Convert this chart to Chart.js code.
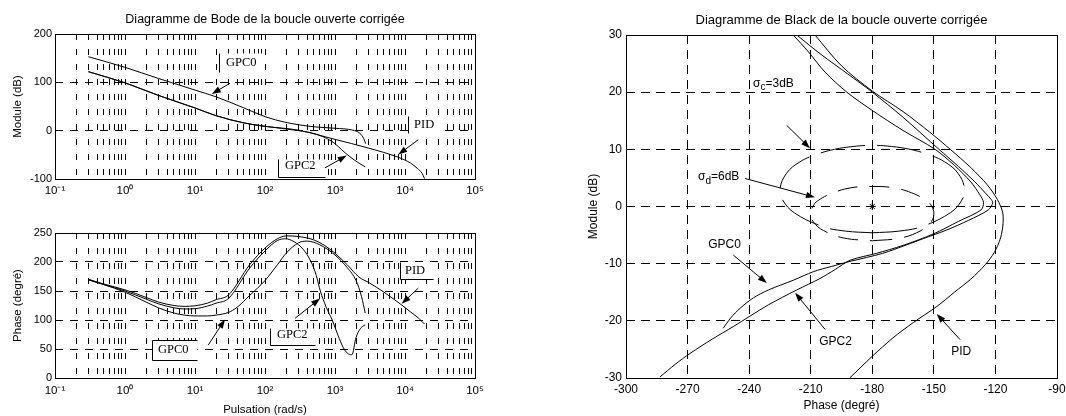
<!DOCTYPE html>
<html lang="fr">
<head>
<meta charset="utf-8">
<title>Bode / Black</title>
<script src="https://cdn.jsdelivr.net/npm/chart.js@4.4.1/dist/chart.umd.min.js"></script>
<style>
html,body{margin:0;padding:0;background:#fff;}
body{width:1066px;height:416px;position:relative;overflow:hidden;}
canvas{position:absolute;display:block;}
</style>
</head>
<body>
<canvas id="bodeMod" width="540" height="200" style="left:0;top:0;width:540px;height:200px"></canvas>
<canvas id="bodePh" width="540" height="216" style="left:0;top:200px;width:540px;height:216px"></canvas>
<canvas id="black" width="526" height="416" style="left:540px;top:0;width:526px;height:416px"></canvas>
<script>
// ---------------- tick labels ----------------
const decadeLabels = ['10\u207B\u00B9','10\u2070','10\u00B9','10\u00B2','10\u00B3','10\u2074','10\u2075'];
const moduleTicks = [-100, 0, 100, 200];
const phaseTicks = [0, 50, 100, 150, 200, 250];
const blackPhaseTicks = [-300, -270, -240, -210, -180, -150, -120, -90];
const blackModuleTicks = [-30, -20, -10, 0, 10, 20, 30];

// ---------------- Bode : module (dB) ----------------
const modW_GPC0  = [0.3, 1, 3, 10, 20, 50, 100, 200, 500, 1000, 1800, 2200, 2500, 2750];
const modDb_GPC0 = [153, 131, 108, 84, 70, 47, 29, 17, 8, 5, 1, -4, -13, -27];
const modW_GPC2  = [0.3, 1, 3, 10, 20, 50, 100, 300, 500, 900, 1400, 1900, 2700];
const modDb_GPC2 = [122, 99, 73, 47, 31, 16, 9, 0, -6, -22, -46, -61, -75];
const modW_PID   = [0.3, 1, 3, 10, 20, 50, 100, 300, 1000, 3000, 8000, 12000, 15000, 17500, 19000];
const modDb_PID  = [122, 99, 73, 47, 31, 16, 9, 1, -18, -36, -55, -67, -78, -88, -99];

// ---------------- Bode : phase (degré) ----------------
const phW_GPC0   = [0.3, 0.5, 1, 2, 3, 5, 7, 10, 15, 20, 30, 40, 60, 100, 150, 200, 300, 400, 600, 1000, 1500, 2000, 2400, 2700];
const phDeg_GPC0 = [170, 161, 148, 131, 121, 112, 108.5, 107, 107, 108.5, 113, 122, 142, 168, 195, 215, 233, 236, 230, 212, 190, 168, 140, 112];
const phW_GPC2   = [0.3, 0.5, 1, 2, 3, 5, 7, 10, 15, 20, 30, 60, 100, 150, 195, 260, 350, 457, 540, 617, 750, 912, 1100, 1318, 1500, 1740, 2000, 2300, 2700];
const phDeg_GPC2 = [169, 161, 150, 136, 128, 121, 119, 119.5, 124, 129, 137, 189, 219, 237, 240, 235, 222, 200, 177, 150, 122, 100, 74, 52, 43, 40, 70, 85, 92];
const phW_PID    = [0.3, 0.5, 1, 2, 3, 5, 7, 10, 15, 20, 30, 60, 100, 150, 200, 300, 500, 700, 1000, 1500, 2200, 3000, 5000, 8500, 12000, 16000, 19000];
const phDeg_PID  = [170, 162, 152, 139, 131, 125, 123.5, 124.5, 129, 135, 143, 195, 224, 240, 245, 244, 238, 229, 215, 195, 174, 165, 148, 128, 114, 102, 93];

// ---------------- Black : phase (degré) / module (dB) ----------------
const blkPh_GPC0 = [-216.8, -205, -192, -180, -165, -147.5, -138, -130, -124.5, -122, -121.3, -123.5, -133, -143.7, -155, -163.2, -175, -190.8, -200, -208.7, -218.5, -230.6, -238, -244.4, -249, -252.6];
const blkDb_GPC0 = [30, 26.6, 23.2, 20, 15.6, 10, 7, 4.3, 2.2, 1.2, 0.6, -0.6, -2.4, -4.1, -5.6, -6.7, -8.2, -9.6, -10.5, -11.4, -12.9, -14.6, -16, -17.8, -19.5, -21.3];
const blkPh_GPC2 = [-218.5, -211, -203, -192.4, -180, -165, -149.4, -140, -132, -127.5, -125.8, -127, -138, -150.2, -165, -178, -190.8, -198, -205.5, -216.8, -230.6, -247.7, -258, -268.8, -276, -283.4];
const blkDb_GPC2 = [30, 27, 23.5, 20, 16.8, 13.3, 10, 7.2, 4.3, 2, 0.7, -0.6, -2.6, -4.8, -6.8, -8.2, -9.4, -11, -12.6, -14.6, -17.2, -21, -23.2, -25.7, -27.6, -29.8];
const blkPh_PID  = [-207.9, -195, -180, -165, -152, -142, -132, -124, -119, -116.5, -116.3, -117.5, -120.5, -125, -132, -140, -148.6, -160, -170, -180, -191];
const blkDb_PID  = [30, 24.6, 20.2, 16.6, 13, 10, 6.8, 3.8, 1.2, -1, -3, -5.5, -8, -10.2, -12.7, -15, -17.5, -20.3, -23, -26.2, -30];

// contour sigma_c = 3 dB
const sigCPh = [-180, -166.9, -155.8, -142, -136.4, -135, -138.2, -144.7, -152.8, -161.6, -170.7, -180, -189.3, -198.4, -207.2, -215.3, -221.8, -225, -223.6, -218, -204.2, -193.1, -180];
const sigCDb = [-4.6, -4.3, -3.5, -1.1, 1.1, 3, 5.8, 7.8, 9.1, 10, 10.5, 10.7, 10.5, 10, 9.1, 7.8, 5.8, 3, 1.1, -1.1, -3.5, -4.3, -4.6];
// contour sigma_d = 6 dB
const sigDPh = [-180, -166, -156.2, -151.3, -150, -151, -153.4, -160.9, -170.1, -180, -189.9, -199.1, -206.6, -209, -210, -208.7, -203.8, -194, -180];
const sigDDb = [-6, -5.5, -4.2, -2.7, -1.3, 0, 1, 2.4, 3.3, 3.5, 3.3, 2.4, 1, 0, -1.3, -2.7, -4.2, -5.5, -6];
// point critique
const criticalPh = [-180];
const criticalDb = [0];

// ---------------- helpers ----------------
const SANS = "'Liberation Sans', Arial, Helvetica, sans-serif";
const SERIF = "'Liberation Serif', 'Times New Roman', serif";
Chart.defaults.font.family = SANS;
Chart.defaults.font.size = 11;
Chart.defaults.color = '#000';

const omegaGrid = [];
for (let e = -1; e < 5; e++) for (let m = 1; m < 10; m++) omegaGrid.push(+(m * Math.pow(10, e)).toPrecision(6));
omegaGrid.push(1e5);

function decadeLabel(v) {
  const e = Math.log10(v), r = Math.round(e);
  return Math.abs(e - r) < 1e-6 ? decadeLabels[r + 1] : '';
}
function fixedTicks(vals) { return s => { s.ticks = vals.map(v => ({ value: v })); }; }
function toPoints(xs, ys) { return xs.map((x, i) => ({ x: x, y: ys[i] })); }
function curve(xs, ys, extra) {
  return Object.assign({ data: toPoints(xs, ys), showLine: true, borderColor: '#000', backgroundColor: '#000',
    borderWidth: 1, pointRadius: 0, pointHoverRadius: 0, fill: false }, extra || {});
}
const mono = { cubicInterpolationMode: 'monotone' };

function makeDecor(spec) {
  return {
    id: 'decor',
    beforeDraw(chart) {
      const c = chart.ctx; c.save(); c.fillStyle = '#fff'; c.fillRect(0, 0, chart.width, chart.height); c.restore();
    },
    afterDatasetsDraw(chart) {
      const ctx = chart.ctx, xs = chart.scales.x, ys = chart.scales.y;
      const px = v => xs.getPixelForValue(v), py = v => ys.getPixelForValue(v);
      ctx.save();
      (spec.labels || []).forEach(l => {
        if (l.rect) {
          const xa = Math.round(px(l.rect[0])) + 0.5, xb = Math.round(px(l.rect[2])) + 0.5;
          const ya = Math.round(Math.min(py(l.rect[1]), py(l.rect[3]))) + 0.5, yb = Math.round(Math.max(py(l.rect[1]), py(l.rect[3]))) + 0.5;
          ctx.fillStyle = '#fff'; ctx.fillRect(xa, ya, xb - xa, yb - ya);
          ctx.strokeStyle = '#000'; ctx.lineWidth = 1; ctx.setLineDash([]); ctx.beginPath();
          if (l.edges.indexOf('l') >= 0) { ctx.moveTo(xa, ya); ctx.lineTo(xa, yb); }
          if (l.edges.indexOf('b') >= 0) { ctx.moveTo(xa, yb); ctx.lineTo(xb, yb); }
          if (l.edges.indexOf('t') >= 0) { ctx.moveTo(xa, ya); ctx.lineTo(xb, ya); }
          ctx.stroke();
        }
        ctx.fillStyle = '#000'; ctx.textBaseline = 'middle';
        const X = px(l.x), Y = py(l.y);
        if (l.parts) {
          let cx = X;
          l.parts.forEach(p => {
            const sub = p[1];
            ctx.font = (sub ? l.subSize : l.size) + 'px ' + l.family;
            ctx.textAlign = 'left';
            ctx.fillText(p[0], cx, Y + (sub ? l.subDy : 0));
            cx += ctx.measureText(p[0]).width;
          });
        } else {
          ctx.font = l.size + 'px ' + l.family;
          ctx.textAlign = l.align || 'left';
          ctx.fillText(l.text, X, Y);
        }
      });
      ctx.strokeStyle = '#000'; ctx.fillStyle = '#000'; ctx.lineWidth = 1; ctx.setLineDash([]);
      (spec.arrows || []).forEach(a => {
        const x1 = px(a[0]), y1 = py(a[1]), x2 = px(a[2]), y2 = py(a[3]);
        const ang = Math.atan2(y2 - y1, x2 - x1), L = 9, W = 3.2;
        const c = Math.cos(ang), s = Math.sin(ang);
        ctx.beginPath(); ctx.moveTo(x1, y1); ctx.lineTo(x2 - L * 0.7 * c, y2 - L * 0.7 * s); ctx.stroke();
        ctx.beginPath(); ctx.moveTo(x2, y2);
        ctx.lineTo(x2 - L * c + W * s, y2 - L * s - W * c);
        ctx.lineTo(x2 - L * c - W * s, y2 - L * s + W * c);
        ctx.closePath(); ctx.fill();
      });
      ctx.restore();
    },
    afterDraw(chart) {
      const ctx = chart.ctx, a = chart.chartArea;
      ctx.save();
      ctx.strokeStyle = '#000'; ctx.lineWidth = 1; ctx.setLineDash([]);
      const L = Math.round(a.left) + 0.5, T = Math.round(a.top) + 0.5, R = Math.round(a.right) + 0.5, B = Math.round(a.bottom) + 0.5;
      ctx.strokeRect(L, T, R - L, B - T);
      if (spec.title) {
        ctx.fillStyle = '#000'; ctx.font = spec.titleSize + 'px ' + SANS;
        ctx.textAlign = 'center'; ctx.textBaseline = 'middle';
        ctx.fillText(spec.title, (a.left + a.right) / 2, spec.titleY);
      }
      ctx.restore();
    }
  };
}

function logAxis(height, pad, title) {
  return {
    type: 'logarithmic', min: 0.1, max: 1e5,
    afterBuildTicks: s => { s.ticks = omegaGrid.map(v => ({ value: v })); },
    afterFit: s => { s.height = height; s.paddingLeft = 0; s.paddingRight = 0; },
    ticks: { autoSkip: false, maxRotation: 0, minRotation: 0, padding: pad, font: { size: 11.5 }, callback: v => decadeLabel(v) },
    grid: { color: '#000', lineWidth: 1, drawTicks: false },
    border: { display: false, dash: [6, 9] },
    title: title || { display: false }
  };
}
function linAxis(min, max, ticks, width, pad, size, dash, title) {
  return {
    type: 'linear', min: min, max: max,
    afterBuildTicks: fixedTicks(ticks),
    afterFit: s => { s.width = width; s.paddingTop = 0; s.paddingBottom = 0; },
    ticks: { padding: pad, font: { size: size } },
    grid: { color: '#000', lineWidth: 1, drawTicks: false },
    border: { display: false, dash: dash },
    title: title
  };
}
const common = {
  responsive: false, animation: false, devicePixelRatio: 1, events: [],
  plugins: { legend: { display: false }, tooltip: { enabled: false } }
};

// ---------------- Chart 1 : Bode module ----------------
new Chart(document.getElementById('bodeMod'), {
  type: 'scatter',
  data: { datasets: [
    curve(modW_GPC0, modDb_GPC0, mono),
    curve(modW_GPC2, modDb_GPC2, mono),
    curve(modW_PID, modDb_PID, mono)
  ] },
  options: Object.assign({}, common, {
    layout: { padding: { left: 0, right: 65, top: 34, bottom: 0 } },
    scales: {
      x: logAxis(21, 5),
      y: linAxis(-100, 200, moduleTicks, 55, 3, 11, [8, 7],
        { display: true, text: 'Module (dB)', font: { size: 11.5 }, padding: { top: 11, bottom: 0 } })
    }
  }),
  plugins: [makeDecor({
    title: 'Diagramme de Bode de la boucle ouverte corrigée', titleY: 20, titleSize: 12.5,
    labels: [
      { text: 'GPC0', x: 27.7, y: 141, size: 12.5, family: SERIF, rect: [22, 160.7, 90.6, 121.4], edges: 'l' },
      { text: 'PID', x: 13450, y: 11.7, size: 12.5, family: SERIF, rect: [11040, 30.3, 32700, -4.8], edges: 'l' },
      { text: 'GPC2', x: 193, y: -73.1, size: 12.5, family: SERIF, rect: [153, -58.6, 720, -95.9], edges: 'lb' }
    ],
    arrows: [
      [31.6, 98, 17.4, 76],
      [15500, -18.6, 8020, -49.5],
      [720, -77, 1470, -51.5]
    ]
  })]
});

// ---------------- Chart 2 : Bode phase ----------------
new Chart(document.getElementById('bodePh'), {
  type: 'scatter',
  data: { datasets: [
    curve(phW_GPC0, phDeg_GPC0, mono),
    curve(phW_GPC2, phDeg_GPC2, mono),
    curve(phW_PID, phDeg_PID, mono)
  ] },
  options: Object.assign({}, common, {
    layout: { padding: { left: 0, right: 65, top: 33, bottom: 0 } },
    scales: {
      x: logAxis(38, 6, { display: true, text: 'Pulsation (rad/s)', font: { size: 11.5, lineHeight: 1 }, padding: { top: 0, bottom: 0 } }),
      y: linAxis(0, 250, phaseTicks, 55, 3, 11, [8, 7],
        { display: true, text: 'Phase (degré)', font: { size: 11.5 }, padding: { top: 11, bottom: 0 } })
    }
  }),
  plugins: [makeDecor({
    labels: [
      { text: 'PID', x: 10000, y: 185, size: 12.5, family: SERIF, rect: [8490, 200, 25100, 170.7], edges: 'lb' },
      { text: 'GPC2', x: 148, y: 74, size: 12.5, family: SERIF, rect: [118, 86.2, 518, 56.9], edges: 'lb' },
      { text: 'GPC0', x: 2.96, y: 48.3, size: 12.5, family: SERIF, rect: [2.43, 65.5, 10.7, 31], edges: 'ltb' }
    ],
    arrows: [
      [15.5, 57, 26.8, 101],
      [269, 103, 611, 137],
      [15500, 155, 8970, 128]
    ]
  })]
});

// ---------------- Chart 3 : Black ----------------
new Chart(document.getElementById('black'), {
  type: 'scatter',
  data: { datasets: [
    curve(blkPh_GPC0, blkDb_GPC0, { tension: 0.3 }),
    curve(blkPh_GPC2, blkDb_GPC2, { tension: 0.3 }),
    curve(blkPh_PID, blkDb_PID, { tension: 0.3 }),
    curve(sigCPh, sigCDb, { tension: 0.4, borderDash: [45, 12] }),
    curve(sigDPh, sigDDb, { tension: 0.4, borderDash: [20, 12] }),
    { data: toPoints(criticalPh, criticalDb), showLine: false, pointStyle: 'star', pointRadius: 3.5,
      borderColor: '#000', backgroundColor: '#000', borderWidth: 1 }
  ] },
  options: Object.assign({}, common, {
    layout: { padding: { left: 0, right: 9, top: 35, bottom: 0 } },
    scales: {
      x: Object.assign(linAxis(-300, -90, blackPhaseTicks, 0, 4, 12, [9, 6],
          { display: true, text: 'Phase (degré)', font: { size: 12 }, padding: { top: 0, bottom: 3 } }),
          { afterFit: s => { s.height = 38; s.paddingLeft = 0; s.paddingRight = 0; } }),
      y: linAxis(-30, 30, blackModuleTicks, 86, 4, 12, [9, 6],
        { display: true, text: 'Module (dB)', font: { size: 12 }, padding: { top: 46, bottom: 0 } })
    }
  }),
  plugins: [makeDecor({
    title: 'Diagramme de Black de la boucle ouverte corrigée', titleY: 20, titleSize: 13,
    labels: [
      { parts: [['σ', 0], ['c', 1], ['=3dB', 0]], x: -238.1, y: 21.5, size: 12, subSize: 10, subDy: 4, family: SANS },
      { parts: [['σ', 0], ['d', 1], ['=6dB', 0]], x: -264.9, y: 5.2, size: 12, subSize: 10, subDy: 4, family: SANS },
      { text: 'GPC0', x: -252, y: -6.7, size: 12, family: SANS, align: 'center' },
      { text: 'GPC2', x: -197.9, y: -23.6, size: 12, family: SANS, align: 'center' },
      { text: 'PID', x: -136.7, y: -25.4, size: 12, family: SANS, align: 'center' }
    ],
    arrows: [
      [-221.7, 14.2, -210.4, 10.2],
      [-242, 4.9, -207.9, 1.6],
      [-247.7, -8.5, -231.4, -13.4],
      [-203, -21.5, -217.6, -15.1],
      [-137.2, -23.3, -148.6, -18.8]
    ]
  })]
});
</script>
</body>
</html>
